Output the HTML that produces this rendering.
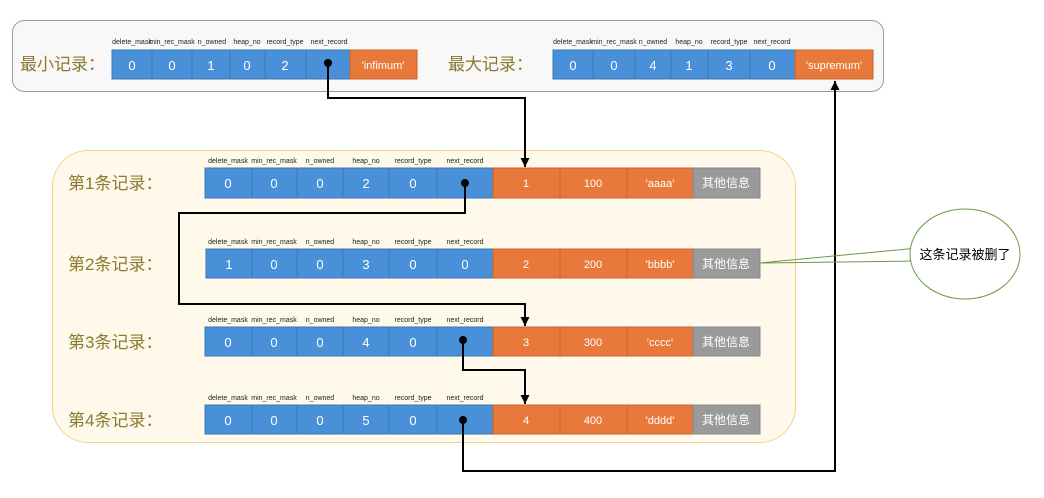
<!DOCTYPE html>
<html><head><meta charset="utf-8"><style>
html,body{margin:0;padding:0;background:#fff;}
svg text{font-family:"Liberation Sans","Noto Sans CJK SC",sans-serif;}
.h{font-size:7px;fill:#222;text-anchor:middle;}
.v{font-size:13px;fill:#fff;text-anchor:middle;}
.l{font-size:17px;fill:#8a7a30;}
.b{fill:#4a90d9;stroke:#3a78b8;stroke-width:1;}
.o{fill:#e8793a;stroke:#c9622a;stroke-width:1;}
.g{fill:#9a9a9a;stroke:#888;stroke-width:1;}
.k{fill:none;stroke:#000;stroke-width:2;}
</style></head><body>
<svg width="1044" height="493" viewBox="0 0 1044 493" xmlns="http://www.w3.org/2000/svg">
<defs><marker id="a" markerWidth="8" markerHeight="8" refX="4" refY="7" orient="auto-start-reverse" markerUnits="userSpaceOnUse"><path d="M0,0 L8,0 L4,8 z" fill="#000" transform="rotate(0)"/></marker>
<marker id="ar" viewBox="0 0 10 10" refX="10" refY="5" markerWidth="9" markerHeight="9" orient="auto" markerUnits="userSpaceOnUse"><path d="M0,0 L10,5 L0,10 z" fill="#000"/></marker></defs>
<!-- top box -->
<rect x="12.5" y="20.5" width="871" height="71" rx="12" fill="#f8f8f8" stroke="#999"/>
<text class="l" x="20" y="70">最小记录：</text>
<text class="l" x="448" y="70">最大记录：</text>
<g>
<text class="h" x="132" y="44">delete_mask</text><text class="h" x="172" y="44">min_rec_mask</text><text class="h" x="212" y="44">n_owned</text><text class="h" x="247" y="44">heap_no</text><text class="h" x="285" y="44">record_type</text><text class="h" x="329" y="44">next_record</text>
<rect class="b" x="112" y="50" width="40" height="29"/><rect class="b" x="152" y="50" width="40" height="29"/><rect class="b" x="192" y="50" width="38" height="29"/><rect class="b" x="230" y="50" width="35" height="29"/><rect class="b" x="265" y="50" width="41" height="29"/><rect class="b" x="306" y="50" width="44" height="29"/><rect class="o" x="350" y="50" width="67" height="29"/>
<text class="v" x="132" y="70">0</text><text class="v" x="172" y="70">0</text><text class="v" x="211" y="70">1</text><text class="v" x="247" y="70">0</text><text class="v" x="285" y="70">2</text><text class="v" x="383" y="69" style="font-size:11px">'infimum'</text>
</g>
<g>
<text class="h" x="573" y="44">delete_mask</text><text class="h" x="614" y="44">min_rec_mask</text><text class="h" x="653" y="44">n_owned</text><text class="h" x="689" y="44">heap_no</text><text class="h" x="729" y="44">record_type</text><text class="h" x="772" y="44">next_record</text>
<rect class="b" x="553" y="50" width="40" height="29"/><rect class="b" x="593" y="50" width="42" height="29"/><rect class="b" x="635" y="50" width="36" height="29"/><rect class="b" x="671" y="50" width="37" height="29"/><rect class="b" x="708" y="50" width="42" height="29"/><rect class="b" x="750" y="50" width="45" height="29"/><rect class="o" x="795" y="50" width="78" height="29"/>
<text class="v" x="573" y="70">0</text><text class="v" x="614" y="70">0</text><text class="v" x="653" y="70">4</text><text class="v" x="689" y="70">1</text><text class="v" x="729" y="70">3</text><text class="v" x="772" y="70">0</text><text class="v" x="834" y="69" style="font-size:11px">'supremum'</text>
</g>
<!-- main box -->
<rect x="52.5" y="150.5" width="743" height="292" rx="36" fill="#fff9ec" stroke="#f0d38a"/>
<g id="r1">
<text class="l" x="68" y="189">第1条记录：</text>
<text class="h" x="228" y="163">delete_mask</text><text class="h" x="274" y="163">min_rec_mask</text><text class="h" x="320" y="163">n_owned</text><text class="h" x="366" y="163">heap_no</text><text class="h" x="413" y="163">record_type</text><text class="h" x="465" y="163">next_record</text>
<rect class="b" x="205" y="168" width="47" height="30"/><rect class="b" x="252" y="168" width="45" height="30"/><rect class="b" x="297" y="168" width="46" height="30"/><rect class="b" x="343" y="168" width="46" height="30"/><rect class="b" x="389" y="168" width="48" height="30"/><rect class="b" x="437" y="168" width="56" height="30"/>
<rect class="o" x="493" y="168" width="67" height="30"/><rect class="o" x="560" y="168" width="67" height="30"/><rect class="o" x="627" y="168" width="66" height="30"/><rect class="g" x="693" y="168" width="67" height="30"/>
<text class="v" x="228" y="188">0</text><text class="v" x="274" y="188">0</text><text class="v" x="320" y="188">0</text><text class="v" x="366" y="188">2</text><text class="v" x="413" y="188">0</text>
<text class="v" x="526" y="187" style="font-size:11px">1</text><text class="v" x="593" y="187" style="font-size:11px">100</text><text class="v" x="660" y="187" style="font-size:11px">'aaaa'</text><text class="v" x="726" y="187" style="font-size:12px">其他信息</text>
</g>
<g>
<text class="l" x="68" y="270">第2条记录：</text>
<text class="h" x="228" y="244">delete_mask</text><text class="h" x="274" y="244">min_rec_mask</text><text class="h" x="320" y="244">n_owned</text><text class="h" x="366" y="244">heap_no</text><text class="h" x="413" y="244">record_type</text><text class="h" x="465" y="244">next_record</text>
<rect class="b" x="206" y="249" width="46" height="29"/><rect class="b" x="252" y="249" width="45" height="29"/><rect class="b" x="297" y="249" width="46" height="29"/><rect class="b" x="343" y="249" width="46" height="29"/><rect class="b" x="389" y="249" width="48" height="29"/><rect class="b" x="437" y="249" width="56" height="29"/>
<rect class="o" x="493" y="249" width="67" height="29"/><rect class="o" x="560" y="249" width="67" height="29"/><rect class="o" x="627" y="249" width="66" height="29"/><rect class="g" x="693" y="249" width="67" height="29"/>
<text class="v" x="229" y="269">1</text><text class="v" x="274" y="269">0</text><text class="v" x="320" y="269">0</text><text class="v" x="366" y="269">3</text><text class="v" x="413" y="269">0</text><text class="v" x="465" y="269">0</text>
<text class="v" x="526" y="268" style="font-size:11px">2</text><text class="v" x="593" y="268" style="font-size:11px">200</text><text class="v" x="660" y="268" style="font-size:11px">'bbbb'</text><text class="v" x="726" y="268" style="font-size:12px">其他信息</text>
</g>
<g>
<text class="l" x="68" y="348">第3条记录：</text>
<text class="h" x="228" y="322">delete_mask</text><text class="h" x="274" y="322">min_rec_mask</text><text class="h" x="320" y="322">n_owned</text><text class="h" x="366" y="322">heap_no</text><text class="h" x="413" y="322">record_type</text><text class="h" x="465" y="322">next_record</text>
<rect class="b" x="205" y="327" width="47" height="29"/><rect class="b" x="252" y="327" width="45" height="29"/><rect class="b" x="297" y="327" width="46" height="29"/><rect class="b" x="343" y="327" width="46" height="29"/><rect class="b" x="389" y="327" width="48" height="29"/><rect class="b" x="437" y="327" width="56" height="29"/>
<rect class="o" x="493" y="327" width="67" height="29"/><rect class="o" x="560" y="327" width="67" height="29"/><rect class="o" x="627" y="327" width="66" height="29"/><rect class="g" x="693" y="327" width="67" height="29"/>
<text class="v" x="228" y="347">0</text><text class="v" x="274" y="347">0</text><text class="v" x="320" y="347">0</text><text class="v" x="366" y="347">4</text><text class="v" x="413" y="347">0</text>
<text class="v" x="526" y="346" style="font-size:11px">3</text><text class="v" x="593" y="346" style="font-size:11px">300</text><text class="v" x="660" y="346" style="font-size:11px">'cccc'</text><text class="v" x="726" y="346" style="font-size:12px">其他信息</text>
</g>
<g>
<text class="l" x="68" y="426">第4条记录：</text>
<text class="h" x="228" y="400">delete_mask</text><text class="h" x="274" y="400">min_rec_mask</text><text class="h" x="320" y="400">n_owned</text><text class="h" x="366" y="400">heap_no</text><text class="h" x="413" y="400">record_type</text><text class="h" x="465" y="400">next_record</text>
<rect class="b" x="205" y="405" width="47" height="29"/><rect class="b" x="252" y="405" width="45" height="29"/><rect class="b" x="297" y="405" width="46" height="29"/><rect class="b" x="343" y="405" width="46" height="29"/><rect class="b" x="389" y="405" width="48" height="29"/><rect class="b" x="437" y="405" width="56" height="29"/>
<rect class="o" x="493" y="405" width="67" height="29"/><rect class="o" x="560" y="405" width="67" height="29"/><rect class="o" x="627" y="405" width="66" height="29"/><rect class="g" x="693" y="405" width="67" height="29"/>
<text class="v" x="228" y="425">0</text><text class="v" x="274" y="425">0</text><text class="v" x="320" y="425">0</text><text class="v" x="366" y="425">5</text><text class="v" x="413" y="425">0</text>
<text class="v" x="526" y="424" style="font-size:11px">4</text><text class="v" x="593" y="424" style="font-size:11px">400</text><text class="v" x="660" y="424" style="font-size:11px">'dddd'</text><text class="v" x="726" y="424" style="font-size:12px">其他信息</text>
</g>
<!-- connectors -->
<path class="k" d="M328,63 V98 H525 V167" marker-end="url(#ar)"/>
<circle cx="328" cy="63" r="4" fill="#000"/>
<path class="k" d="M465,183 V213 H179 V304 H525 V326" marker-end="url(#ar)"/>
<circle cx="465" cy="183" r="4" fill="#000"/>
<path class="k" d="M463,340 V370 H525 V404" marker-end="url(#ar)"/>
<circle cx="463" cy="340" r="4" fill="#000"/>
<path class="k" d="M463,420 V471 H835 V81" marker-end="url(#ar)"/>
<circle cx="463" cy="420" r="4" fill="#000"/>
<!-- callout -->
<path d="M760,263 L918,248 M760,263 L918,261" stroke="#6a9a4a" stroke-width="1" fill="none"/>
<ellipse cx="965" cy="254" rx="55" ry="45" fill="#fff" stroke="#6a9a4a"/>
<text x="965" y="259" text-anchor="middle" style="font-size:13px;fill:#000">这条记录被删了</text>
</svg>
</body></html>
